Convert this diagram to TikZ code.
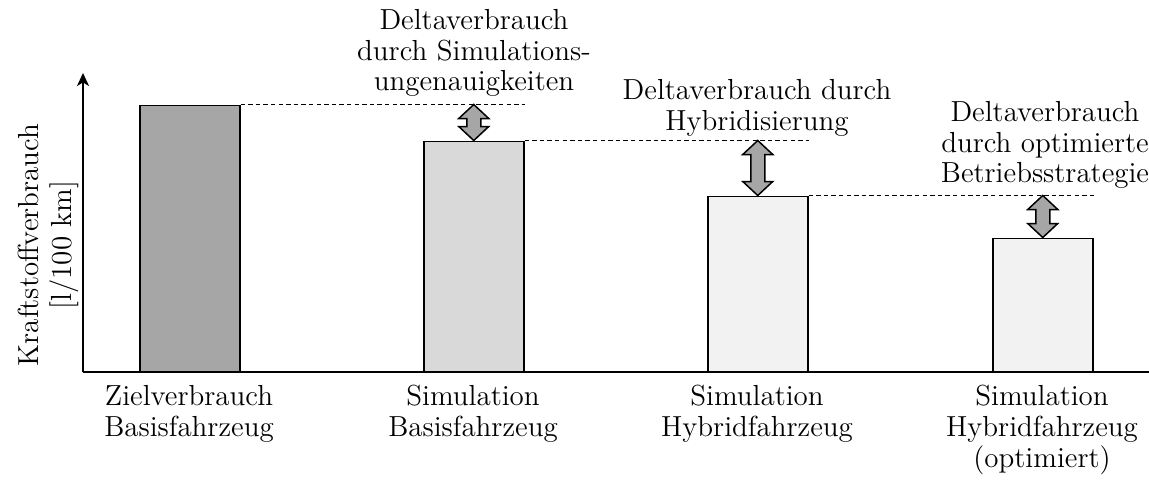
\documentclass[tikz,border=0pt]{standalone}
\usetikzlibrary{calc,arrows.meta}
\definecolor{barA}{HTML}{A6A6A6}
\definecolor{barB}{HTML}{D9D9D9}
\definecolor{barC}{HTML}{F2F2F2}
\definecolor{arrfill}{HTML}{A6A6A6}
\newcommand\dblarr[2]{%
  \draw[darr] (#1) -- ++(15,14) -- ++(-8,0) -- ($(#2)+(7,-14)$) -- ++(8,0) -- (#2)
    -- ++(-15,-14) -- ++(8,0) -- ($(#1)+(-7,14)$) -- ++(-8,0) -- cycle;}
\tikzset{
  x=0.5pt, y=-0.5pt,
  lbl/.style={font=\fontsize{14.5}{15.3}\selectfont, align=center, inner sep=0pt},
  bar/.style={draw=black, line width=0.75pt, minimum width=50pt, inner sep=0pt, anchor=south west},
  axis/.style={line width=1pt},
  guide/.style={dashed, dash pattern=on 2.2pt off 1.6pt, line width=0.5pt},
  darr/.style={draw=black, fill=arrfill, line width=0.75pt, line join=miter},
}
\begin{document}
\begin{tikzpicture}
\useasboundingbox (0,0) rectangle (1149,483);
% bars
\node[bar, fill=barA, minimum height=133pt] (bar1) at (139,372) {};
\node[bar, fill=barB, minimum height=115pt] (bar2) at (423,372) {};
\node[bar, fill=barC, minimum height=87.5pt] (bar3) at (707,372) {};
\node[bar, fill=barC, minimum height=66.5pt] (bar4) at (992,372) {};
% axes
\coordinate (origin) at (83,372);
\coordinate (ytip) at (83,73);
\coordinate (xend) at (1149,372);
\draw[axis, -{Stealth[length=6.5pt, width=6pt, inset=1.8pt]}] (origin) -- (ytip);
\draw[axis] (origin) -- (xend);
% dashed guides
\coordinate (g1) at (bar2.north east |- bar1.north);
\coordinate (g2) at (bar3.north east |- bar2.north);
\coordinate (g3) at (bar4.north east |- bar3.north);
\draw[guide] (bar1.north east) -- (g1);
\draw[guide] (bar2.north east) -- (g2);
\draw[guide] (bar3.north east) -- (g3);
% double arrows
\coordinate (a1t) at (bar2.north |- bar1.north);
\coordinate (a2t) at (bar3.north |- bar2.north);
\coordinate (a3t) at (bar4.north |- bar3.north);
\dblarr{a1t}{bar2.north}
\dblarr{a2t}{bar3.north}
\dblarr{a3t}{bar4.north}
% delta labels
\node[lbl, anchor=north] (d1) at (474,9) {Deltaverbrauch\\durch Simulations-\\ungenauigkeiten};
\node[lbl, anchor=north] (d2) at (757,79) {Deltaverbrauch durch\\Hybridisierung};
\node[lbl, anchor=north] (d3) at (1045,101) {Deltaverbrauch\\durch optimierte\\Betriebsstrategie};
% category labels
\node[lbl, anchor=north] (c1) at (189,385) {Zielverbrauch\\Basisfahrzeug};
\node[lbl, anchor=north] (c2) at (473,385) {Simulation\\Basisfahrzeug};
\node[lbl, anchor=north] (c3) at (757,385) {Simulation\\Hybridfahrzeug};
\node[lbl, anchor=north] (c4) at (1042,385) {Simulation\\Hybridfahrzeug\\(optimiert)};
% y label
\node[lbl, rotate=90, font=\fontsize{14.5}{16.5}\selectfont] (ylab) at (48,245) {Kraftstoffverbrauch\\{[l/100 km]}};
\end{tikzpicture}
\end{document}
